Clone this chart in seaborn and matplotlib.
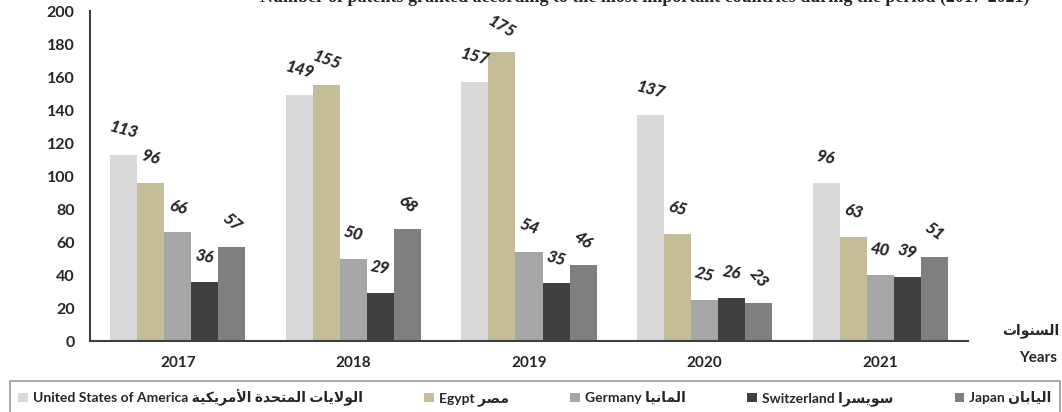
import matplotlib
matplotlib.use("Agg")
import matplotlib.pyplot as plt
import numpy as np
import pandas as pd
import seaborn as sns

# values
years = ["2017", "2018", "2019", "2020", "2021"]
usa = [113, 149, 157, 137, 96]
egypt = [96, 155, 175, 65, 63]
germany = [66, 50, 54, 25, 40]
switzerland = [36, 29, 35, 26, 39]
japan = [57, 68, 46, 23, 51]

names_en = ["United States of America", "Egypt", "Germany", "Switzerland", "Japan"]
names_ar = ["الولايات المتحدة الأمريكية", "مصر", "المانيا", "سويسرا", "اليابان"]
colors = ["#D9D9D9", "#C4BD97", "#A6A6A6", "#404040", "#7F7F7F"]

# label tilt per country / year (degrees)
tilts = [[-15, -15, -15, -15, -10],
         [-15, -20, -30, -15, -15],
         [-15, -15, -20, -15, -10],
         [-10, -10, -15, -10, -15],
         [-40, -40, -35, -50, -35]]

# --- tiny arabic shaper: contextual forms + visual order (no bidi libs here)
FORMS = {
    "ا": (0xFE8D, 0xFE8E, None, None), "أ": (0xFE83, 0xFE84, None, None),
    "ب": (0xFE8F, 0xFE90, 0xFE91, 0xFE92), "ة": (0xFE93, 0xFE94, None, None),
    "ت": (0xFE95, 0xFE96, 0xFE97, 0xFE98), "ح": (0xFEA1, 0xFEA2, 0xFEA3, 0xFEA4),
    "د": (0xFEA9, 0xFEAA, None, None), "ر": (0xFEAD, 0xFEAE, None, None),
    "س": (0xFEB1, 0xFEB2, 0xFEB3, 0xFEB4), "ص": (0xFEB9, 0xFEBA, 0xFEBB, 0xFEBC),
    "ك": (0xFED9, 0xFEDA, 0xFEDB, 0xFEDC), "ل": (0xFEDD, 0xFEDE, 0xFEDF, 0xFEE0),
    "م": (0xFEE1, 0xFEE2, 0xFEE3, 0xFEE4), "ن": (0xFEE5, 0xFEE6, 0xFEE7, 0xFEE8),
    "و": (0xFEED, 0xFEEE, None, None), "ي": (0xFEF1, 0xFEF2, 0xFEF3, 0xFEF4),
}
LAM_ALEF = {"ا": (0xFEFB, 0xFEFC), "أ": (0xFEF7, 0xFEF8)}


def ar(text):
    out = []
    chars = list(text)
    i = 0
    while i < len(chars):
        c = chars[i]
        if c not in FORMS:
            out.append(c)
            i += 1
            continue
        prev = chars[i - 1] if i > 0 else None
        joins_prev = prev in FORMS and FORMS[prev][2] is not None
        nxt = chars[i + 1] if i + 1 < len(chars) else None
        if c == "ل" and nxt in LAM_ALEF:
            out.append(chr(LAM_ALEF[nxt][1 if joins_prev else 0]))
            i += 2
            continue
        joins_next = FORMS[c][2] is not None and nxt in FORMS
        iso, fin, ini, med = FORMS[c]
        if joins_prev and joins_next:
            code = med
        elif joins_prev:
            code = fin
        elif joins_next:
            code = ini
        else:
            code = iso
        out.append(chr(code))
        i += 1
    return "".join(out)[::-1]


labels = [f"{en} {ar(a)}" for en, a in zip(names_en, names_ar)]
series = [usa, egypt, germany, switzerland, japan]

df = pd.DataFrame({
    "year": np.tile(years, len(labels)),
    "country": np.repeat(labels, len(years)),
    "value": np.concatenate(series),
})

sns.set_style("white")
plt.rcParams["font.family"] = ["Lato", "DejaVu Sans"]

fig = plt.figure(figsize=(10.62, 4.12), dpi=100)
ax = fig.add_axes([0.0847, 0.1723, 0.8268, 0.801])

sns.barplot(data=df, x="year", y="value", hue="country", palette=colors,
            width=0.77, saturation=1, linewidth=0, ax=ax)

# data labels, tilted, bold italic
for k, cont in enumerate(ax.containers):
    for j, bar in enumerate(cont):
        ax.annotate(f"{bar.get_height():.0f}",
                    (bar.get_x() + bar.get_width() / 2, bar.get_height()),
                    xytext=(0, 25), textcoords="offset pixels",
                    ha="center", va="center", rotation=tilts[k][j],
                    fontsize=12, fontweight="black", fontstyle="italic")

ax.set_ylim(0, 200)
ax.set_xlim(-0.5, 4.5)
ax.set_yticks(range(0, 201, 20))
ax.set_xlabel("")
ax.set_ylabel("")
for s in ["top", "right"]:
    ax.spines[s].set_visible(False)
for s in ["left", "bottom"]:
    ax.spines[s].set_color("#404040")
    ax.spines[s].set_linewidth(1.5)
ax.tick_params(axis="y", direction="out", length=5, width=1, color="#404040",
               labelsize=11.5, pad=6)
ax.tick_params(axis="x", which="major", length=0, labelsize=11, pad=11)
ax.set_xticks(np.arange(-0.5, 5, 1), minor=True)
ax.tick_params(axis="x", which="minor", direction="out", length=8, width=1,
               color="#404040")
for t in ax.get_xticklabels() + ax.get_yticklabels():
    t.set_fontweight("bold")

fig.text(1059 / 1062, 1 - 331 / 412, ar("السنوات"), ha="right", va="center",
         fontsize=10, fontweight="bold")
fig.text(1057 / 1062, 1 - 358 / 412, "Years", ha="right", va="center",
         fontsize=11, fontweight="bold")

# title, clipped at the top edge like the source image
fig.text(1030 / 1062, 1 - 1.5 / 412,
         "Number of patents granted according to the most important countries during the period (2017-2021)",
         ha="right", va="baseline", fontsize=13, fontweight="bold",
         family="Liberation Serif")

handles, _ = ax.get_legend_handles_labels()
ax.get_legend().remove()
leg = fig.legend(handles, labels, loc="upper left", ncol=5, mode="expand",
                 bbox_to_anchor=(10 / 1062, 1 - 381 / 412, 1050 / 1062, 0.0),
                 frameon=True, fancybox=False, edgecolor="#808080",
                 handlelength=0.7, handleheight=0.7, handletextpad=0.35,
                 borderpad=0.6, borderaxespad=0,
                 prop={"weight": "bold", "size": 10})
leg.get_frame().set_linewidth(1.2)

fig.savefig("out.png", dpi=100)
